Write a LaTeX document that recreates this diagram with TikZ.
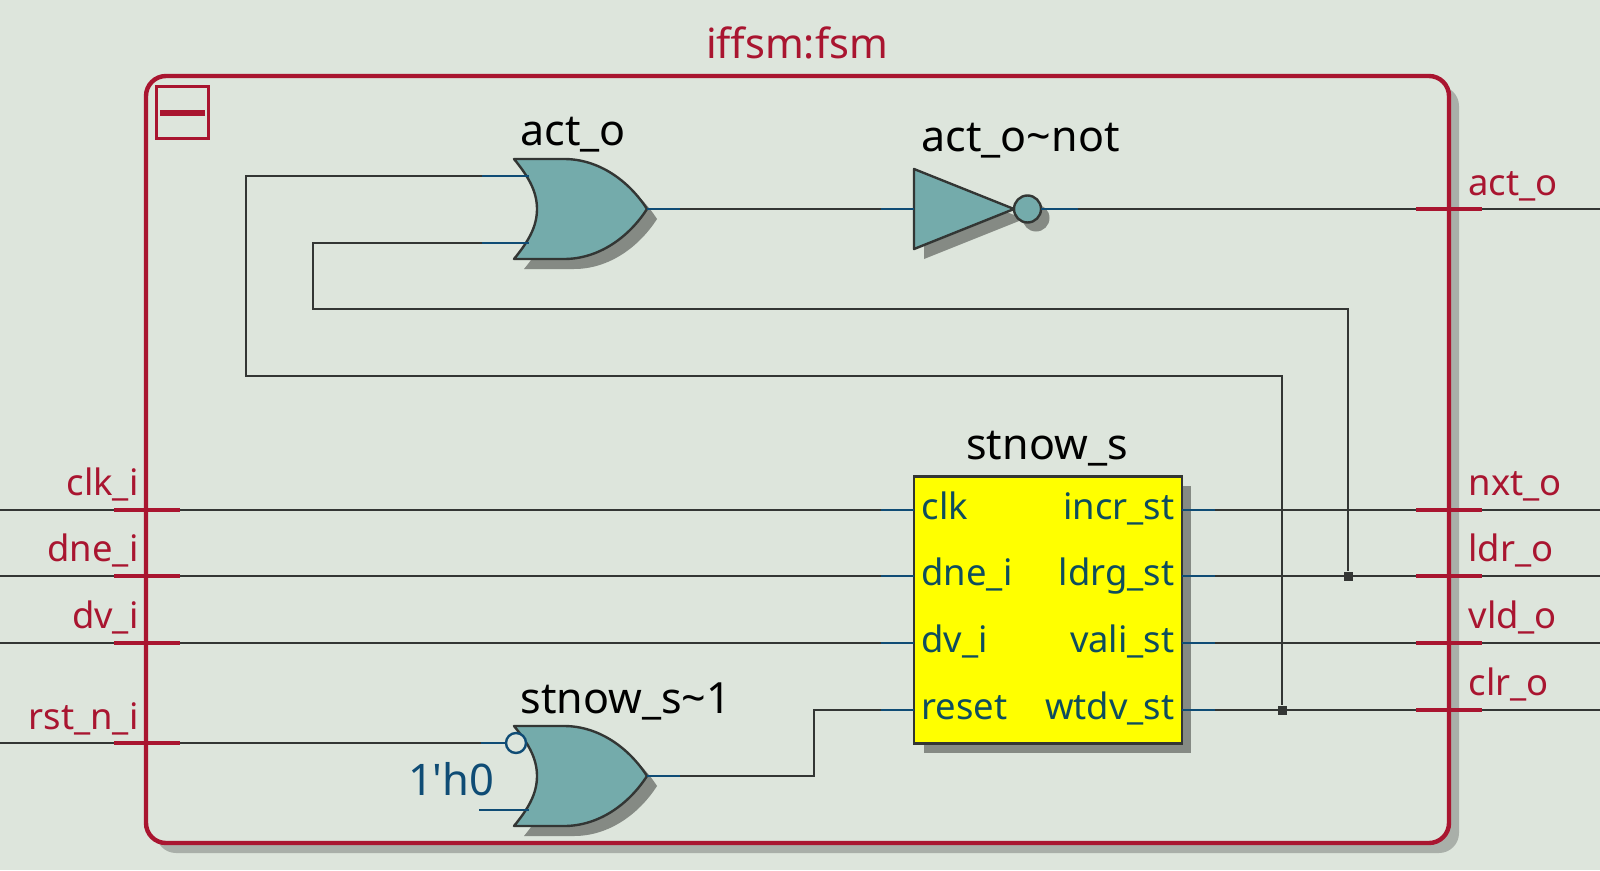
\documentclass[tikz,border=0pt]{standalone}
\usepackage{fontspec}
\setmainfont{Noto Sans}
\newfontfamily\plainfont{Noto Sans}
\definecolor{bgcol}{HTML}{DDE5DC}
\definecolor{framecol}{HTML}{A91530}
\definecolor{frameshadow}{HTML}{A9AFA9}
\definecolor{gatecol}{HTML}{74ABAB}
\definecolor{gateshadow}{HTML}{858A84}
\definecolor{netcol}{HTML}{333634}
\definecolor{pincol}{HTML}{0F4C75}
\definecolor{pintext}{HTML}{0E4D5E}
\definecolor{blockcol}{HTML}{FFFF00}
\tikzset{
  net/.style={draw=netcol, line width=2.5pt},
  pin/.style={draw=pincol, line width=2.5pt},
  gate/.style={draw=netcol, fill=gatecol, line width=2.4pt, line join=round},
  shade/.style={fill=gateshadow},
  tick/.style={draw=framecol, line width=3.6pt},
  junction/.style={fill=netcol, minimum size=9pt, inner sep=0pt},
  title/.style={font=\fontsize{43}{43}\selectfont, anchor=base},
  port/.style={font=\fontsize{36.4}{36.4}\selectfont, text=framecol, anchor=base},
  pinlabel/.style={font=\fontsize{36.4}{36.4}\selectfont, text=pintext, anchor=base},
  orshape/.pic={
    \fill[shade, shift={(10,10)}] (0,-50) -- (50,-50) .. controls (85,-50) and (115,-28) .. (133,0) .. controls (115,28) and (85,50) .. (50,50) -- (0,50) .. controls (14,33) and (23,18) .. (23,0) .. controls (23,-18) and (14,-33) .. (0,-50) -- cycle;
    \path[gate] (0,-50) -- (50,-50) .. controls (85,-50) and (115,-28) .. (133,0) .. controls (115,28) and (85,50) .. (50,50) -- (0,50) .. controls (14,33) and (23,18) .. (23,0) .. controls (23,-18) and (14,-33) .. (0,-50) -- cycle;
    \coordinate (-a) at (15,-33);
    \coordinate (-b) at (15,34);
    \coordinate (-y) at (133,0);
  },
  notshape/.pic={
    \fill[shade, shift={(10,10)}] (0,-40) -- (100,0) -- (0,40) -- cycle;
    \fill[shade] (122,9) circle (13.5);
    \path[gate] (0,-40) -- (100,0) -- (0,40) -- cycle;
    \path[gate] (113.5,0) circle (13.5);
    \coordinate (-a) at (0,0);
    \coordinate (-y) at (127,0);
  },
}
\begin{document}
\begin{tikzpicture}[x=1pt,y=-1pt]
 \useasboundingbox[fill=bgcol] (0,0) rectangle (1600,870);
 % frame shadow
 \fill[frameshadow, rounded corners=20pt] (156,86) rectangle (1459,853);
 \fill[bgcol, rounded corners=18pt] (146,76) rectangle (1449,843);

 % gates
 \pic (actor) at (514,209) {orshape};
 \pic (actnot) at (914,209) {notshape};
 \pic (rstor) at (514,776) {orshape};
 \node[circle, draw=pincol, fill=bgcol, line width=2.4pt, minimum size=20pt, inner sep=0pt] (rstbub) at (516,743) {};

 % state block
 \fill[gateshadow] (924,486) rectangle (1191,753);
 \node[draw=netcol, fill=blockcol, line width=2.4pt, minimum width=268pt, minimum height=267pt, inner sep=0pt] (stnow) at (1048,610) {};
 \node[title] (stnowname) at (1047,459) {stnow\_s};

 % pin stubs of the block, input ports and output ports
 \foreach \n/\y/\pl/\pr/\il/\ol in {clk/510/clk/incr\_st/clk\_i/nxt\_o,
                                    dne/576/dne\_i/ldrg\_st/dne\_i/ldr\_o,
                                    dv/643/dv\_i/vali\_st/dv\_i/vld\_o,
                                    rst/710/reset/wtdv\_st//clr\_o}{
   \coordinate (\n L) at (914,\y);
   \coordinate (\n Lw) at (881,\y);
   \coordinate (\n R) at (1182,\y);
   \coordinate (\n Rw) at (1215,\y);
   \coordinate (\n O) at (1600,\y);
   \draw[pin] (\n L) -- (\n Lw);
   \draw[pin] (\n R) -- (\n Rw);
   \draw[net] (\n Rw) -- (\n O);
   \node[pinlabel, anchor=base west] (\n pl) at (918,\y+9) {\pl};
   \node[pinlabel, anchor=base east] (\n pr) at (1178,\y+9) {\pr};
   \node[port, anchor=base west] (\n op) at (1465,\y-15) {\ol};
   \coordinate (\n T1) at (1416,\y);
   \coordinate (\n T2) at (1482,\y);
 }
 \foreach \n/\y/\il in {clk/510/clk\_i, dne/576/dne\_i, dv/643/dv\_i}{
   \coordinate (\n I) at (0,\y);
   \draw[net] (\n I) -- (\n Lw);
   \node[port, anchor=base east] (\n ip) at (142,\y-15) {\il};
   \coordinate (\n T3) at (114,\y);
   \coordinate (\n T4) at (180,\y);
 }

 % act_o gate and inverter
 \coordinate (actaw) at (482,176);
 \coordinate (actbw) at (482,243);
 \coordinate (actyw) at (680,209);
 \coordinate (notaw) at (881,209);
 \coordinate (notyw) at (1078,209);
 \coordinate (acto) at (1600,209);
 \coordinate (actT1) at (1416,209);
 \coordinate (actT2) at (1482,209);
 \draw[pin] (actor-a) -- (actaw);
 \draw[pin] (actor-b) -- (actbw);
 \draw[pin] (actor-y) -- (actyw);
 \draw[pin] (actnot-a) -- (notaw);
 \draw[pin] (actnot-y) -- (notyw);
 \draw[net] (actyw) -- (notaw);
 \draw[net] (notyw) -- (acto);
 \node[title, anchor=base west] (actorname) at (517,145) {act\_o};
 \node[title, anchor=base west] (actnotname) at (918,151) {act\_o\textasciitilde not};
 \node[port, anchor=base west] (actop) at (1465,195) {act\_o};

 % feedback nets
 \node[junction] (jwtdv) at (1282,710) {};
 \node[junction] (jldrg) at (1348,576) {};
 \draw[net] (actaw) -| (246,376) -| (jwtdv);
 \draw[net] (actbw) -| (313,309) -| (jldrg);

 % reset gate
 \coordinate (rstI) at (0,743);
 \coordinate (rstw) at (481,743);
 \coordinate (rstT3) at (114,743);
 \coordinate (rstT4) at (180,743);
 \coordinate (rstbw) at (479,810);
 \coordinate (rstyw) at (680,776);
 \draw[net] (rstI) -- (rstw);
 \draw[pin] (rstw) -- (rstbub);
 \draw[pin] (rstor-b) -- (rstbw);
 \draw[pin] (rstor-y) -- (rstyw);
 \draw[net] (rstyw) -| (814,710) -- (rstLw);
 \node[port, anchor=base east] (rstip) at (142,729) {rst\_n\_i};
 \node[font=\plainfont\fontsize{43.5}{43.5}\selectfont, text=pincol, anchor=base east] (rstconst) at (498,795) {1'h0};
 \node[title, anchor=base west] (rstorname) at (517,713) {stnow\_s\textasciitilde 1};

 % frame on top of the nets
 \draw[framecol, line width=4.4pt, rounded corners=20pt] (146,76) rectangle (1449,843);
 \foreach \n in {act,clk,dne,dv,rst}{\draw[tick] (\n T1) -- (\n T2);}
 \foreach \n in {clk,dne,dv,rst}{\draw[tick] (\n T3) -- (\n T4);}
 \node[draw=framecol, line width=2.6pt, minimum size=52pt, inner sep=0pt] (collapse) at (182.5,112.5) {};
 \coordinate (barl) at (160,113);
 \coordinate (barr) at (205,113);
 \draw[framecol, line width=6pt] (barl) -- (barr);
 \node[font=\fontsize{41.5}{41.5}\selectfont, text=framecol, anchor=base] (fsmname) at (797,58) {iffsm:fsm};
\end{tikzpicture}
\end{document}
